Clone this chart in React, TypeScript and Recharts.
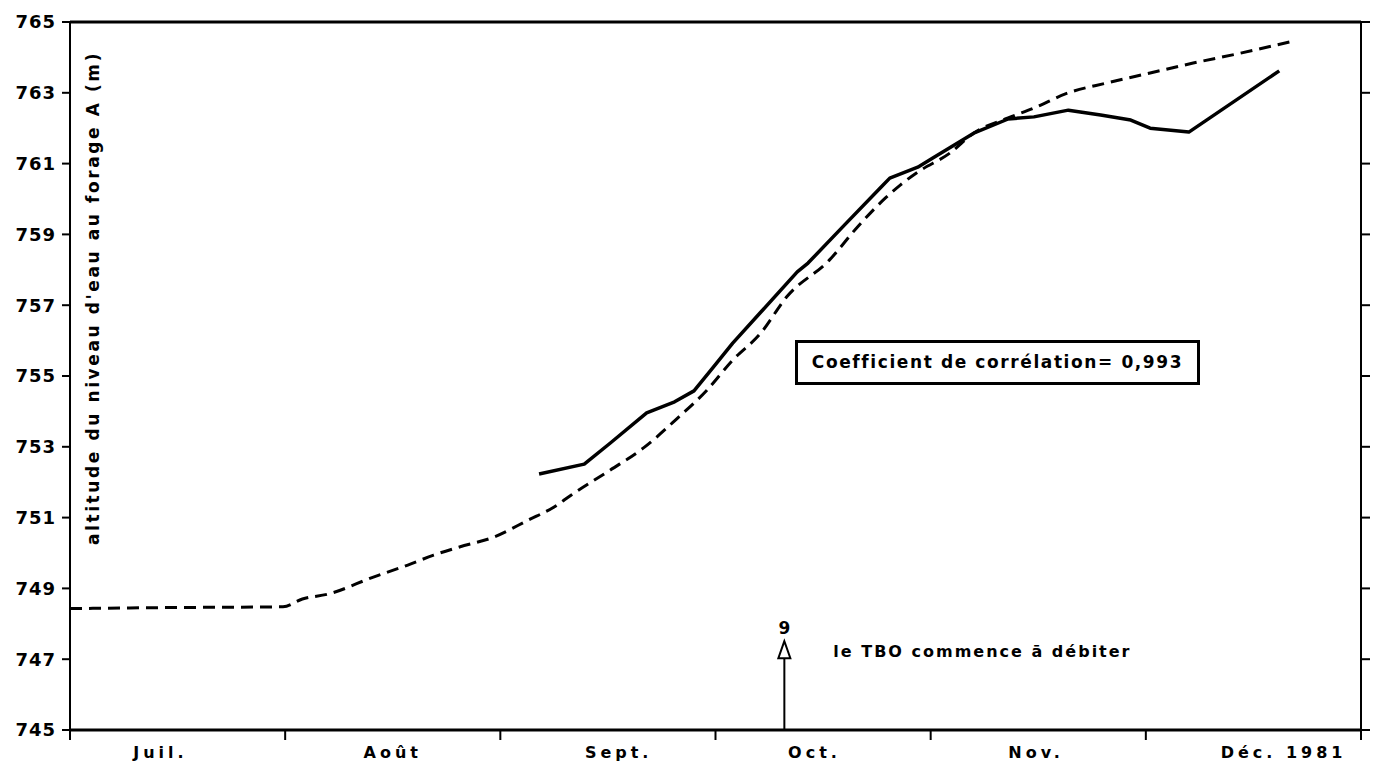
import React from "react";
import {
  LineChart,
  Line,
  XAxis,
  YAxis,
  ReferenceLine,
  ReferenceDot,
} from "recharts";

// x is in months from 1 July 1981 (each month = 1 unit, as on the original)
const monthStarts = [0, 1, 2, 3, 4, 5, 6];
const monthNames = ["Juil.", "Août", "Sept.", "Oct.", "Nov.", "Déc. 1981"];
const monthLabelPos = [0.42, 1.5, 2.55, 3.46, 4.49, 5.64];
const yTicks = [745, 747, 749, 751, 753, 755, 757, 759, 761, 763, 765];

// dashed curve (calculated level)
const calcX = [0, 0.5, 0.99, 1.08, 1.2, 1.41, 1.57, 1.69, 1.81, 1.97, 2.13, 2.25, 2.33, 2.51, 2.67, 2.82, 2.96, 3.08, 3.21, 3.33, 3.53, 3.66, 3.79, 3.86, 3.94, 4.09, 4.2, 4.36, 4.48, 4.64, 4.82, 5.02, 5.22, 5.44, 5.67];
const calcY = [748.43, 748.46, 748.48, 748.7, 748.84, 749.32, 749.66, 749.94, 750.17, 750.45, 750.93, 751.3, 751.64, 752.34, 752.99, 753.79, 754.6, 755.45, 756.21, 757.23, 758.28, 759.21, 760.03, 760.4, 760.76, 761.3, 761.86, 762.29, 762.57, 763.0, 763.28, 763.56, 763.84, 764.12, 764.44];

// solid curve (observed level, forage A)
const obsX = [2.18, 2.39, 2.51, 2.68, 2.81, 2.9, 2.99, 3.08, 3.21, 3.38, 3.43, 3.6, 3.77, 3.81, 3.94, 4.01, 4.2, 4.36, 4.48, 4.64, 4.79, 4.93, 5.02, 5.2, 5.62];
const obsY = [752.23, 752.51, 753.1, 753.96, 754.27, 754.58, 755.25, 755.93, 756.8, 757.94, 758.19, 759.27, 760.34, 760.59, 760.9, 761.16, 761.86, 762.26, 762.32, 762.51, 762.37, 762.23, 762.0, 761.89, 763.62];

const eventX = 3.32; // 9 oct.
const eventStem = [745, 747.03];

const calcData = calcX.map((x, i) => ({ x, y: calcY[i] }));
const obsData = obsX.map((x, i) => ({ x, y: obsY[i] }));
const bottomTicks = [...monthStarts, ...monthLabelPos].sort((a, b) => a - b);

const FONT = "'DejaVu Sans', sans-serif";

const MonthTick = ({ x, y, payload }: any) => {
  const v = payload.value;
  if (monthStarts.includes(v)) {
    return <line x1={x} y1={y} x2={x} y2={y + 10} stroke="#000" strokeWidth={2} />;
  }
  const name = monthNames[monthLabelPos.indexOf(v)] ?? "";
  return (
    <text x={x} y={y + 22} textAnchor="middle" dominantBaseline="central"
      style={{ fontFamily: FONT, fontWeight: 700, fontSize: 16, letterSpacing: 4 }} fill="#000">
      {name}
    </text>
  );
};

const EventMarker = ({ cx, cy }: any) => (
  <g>
    <polygon
      points={`${cx},${cy - 17} ${cx - 6},${cy} ${cx + 6},${cy}`}
      fill="none"
      stroke="#000"
      strokeWidth={2}
    />
    <text x={cx} y={cy - 30} textAnchor="middle" dominantBaseline="central"
      style={{ fontFamily: FONT, fontWeight: 700, fontSize: 17 }} fill="#000">
      9
    </text>
    <text x={cx + 49} y={cy - 1}
      style={{ fontFamily: FONT, fontWeight: 700, fontSize: 16, letterSpacing: 2 }} fill="#000">
      le TBO commence ā débiter
    </text>
  </g>
);

const YTitle = ({ viewBox }: any) => {
  const cx = viewBox.x + viewBox.width + 23;
  const cy = viewBox.y + 276;
  return (
    <text x={cx} y={cy} transform={`rotate(-90 ${cx} ${cy})`} textAnchor="middle"
      dominantBaseline="central"
      style={{ fontFamily: FONT, fontWeight: 700, fontSize: 17, letterSpacing: 2.6 }} fill="#000">
      altitude du niveau d'eau au forage A (m)
    </text>
  );
};

export default function App() {
  return (
    <div style={{ position: "absolute", left: 0, top: 0, width: 1374, height: 767, background: "#fff" }}>
      <LineChart width={1374} height={767} margin={{ top: 22, right: 0, bottom: 0, left: 0 }}>
        <XAxis
          xAxisId="main"
          dataKey="x"
          type="number"
          domain={[0, 6]}
          ticks={bottomTicks}
          interval={0}
          tick={<MonthTick />}
          tickSize={0}
          tickMargin={0}
          height={37}
          axisLine={{ stroke: "#000", strokeWidth: 3 }}
          tickLine={false}
          allowDataOverflow
        />
        <YAxis
          yAxisId="left"
          type="number"
          domain={[745, 765]}
          ticks={yTicks}
          interval={0}
          width={70}
          tickSize={8}
          tickMargin={6}
          axisLine={{ stroke: "#000", strokeWidth: 2 }}
          tickLine={{ stroke: "#000", strokeWidth: 2 }}
          tick={{ fontFamily: FONT, fontWeight: 700, fontSize: 18, letterSpacing: 1, fill: "#000" }}
          label={<YTitle />}
          allowDataOverflow
        />
        <YAxis
          yAxisId="right"
          orientation="right"
          type="number"
          domain={[745, 765]}
          ticks={yTicks}
          interval={0}
          width={13}
          tickSize={9}
          tickFormatter={() => ""}
          axisLine={{ stroke: "#000", strokeWidth: 2 }}
          tickLine={{ stroke: "#000", strokeWidth: 2 }}
          allowDataOverflow
        />
        <ReferenceLine
          xAxisId="main"
          yAxisId="left"
          y={765}
          stroke="#000"
          strokeWidth={3}
          ifOverflow="visible"
        />
        <Line
          xAxisId="main"
          yAxisId="right"
          data={calcData}
          dataKey="y"
          type="monotone"
          stroke="#000"
          strokeWidth={3}
          strokeDasharray="12 7"
          dot={false}
          isAnimationActive={false}
        />
        <Line
          xAxisId="main"
          yAxisId="left"
          data={obsData}
          dataKey="y"
          type="linear"
          stroke="#000"
          strokeWidth={3.5}
          strokeLinejoin="round"
          dot={false}
          isAnimationActive={false}
        />
        <ReferenceLine
          xAxisId="main"
          yAxisId="left"
          segment={[{ x: eventX, y: eventStem[0] }, { x: eventX, y: eventStem[1] }]}
          stroke="#000"
          strokeWidth={2}
        />
        <ReferenceDot
          xAxisId="main"
          yAxisId="left"
          x={eventX}
          y={eventStem[1]}
          shape={<EventMarker />}
        />
      </LineChart>
      <div
        style={{
          position: "absolute",
          left: 795,
          top: 340,
          width: 399,
          height: 39,
          border: "3px solid #000",
          fontFamily: FONT,
          fontWeight: 700,
          fontSize: 17,
          letterSpacing: 1.6,
          lineHeight: "39px",
          textAlign: "center",
          color: "#000",
        }}
      >
        Coefficient de corrélation= 0,993
      </div>
    </div>
  );
}
